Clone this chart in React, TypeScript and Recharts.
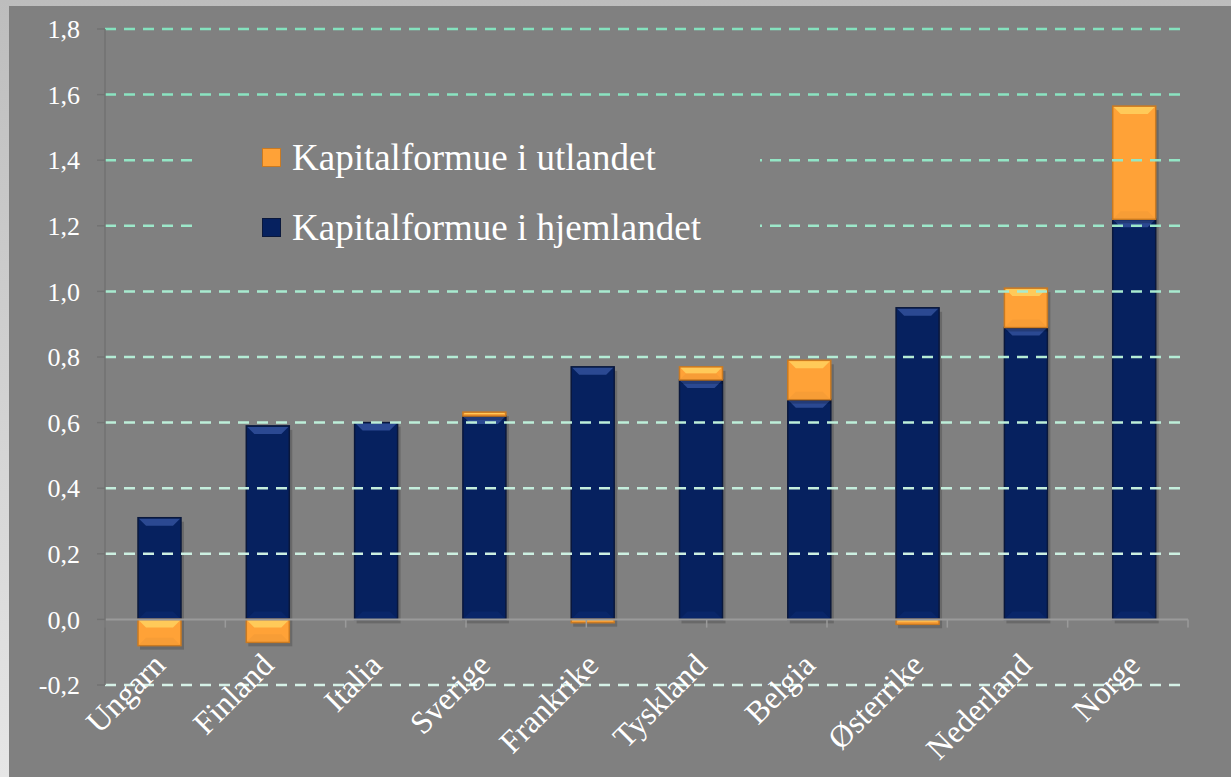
import React from 'react';
import { BarChart, Bar, XAxis, YAxis, ReferenceLine, Legend } from 'recharts';

const categories = ['Ungarn', 'Finland', 'Italia', 'Sverige', 'Frankrike', 'Tyskland', 'Belgia', 'Østerrike', 'Nederland', 'Norge'];
const hjemlandet = [0.31, 0.59, 0.6, 0.62, 0.77, 0.73, 0.67, 0.95, 0.89, 1.22];
const utlandet = [-0.08, -0.07, 0.0, 0.012, -0.01, 0.04, 0.12, -0.015, 0.12, 0.345];
const yTicks = [-0.2, 0, 0.2, 0.4, 0.6, 0.8, 1.0, 1.2, 1.4, 1.6, 1.8];
const boundaries = [0, 1, 2, 3, 4, 5, 6, 7, 8, 9, 10];
const seriesNames = { hjem: 'Kapitalformue i hjemlandet', utland: 'Kapitalformue i utlandet' };

const data = categories.map((c, i) => ({ name: c, hjem: hjemlandet[i], utland: utlandet[i] }));

const gridColors: Record<string, string> = {
  '-0.2': '#d6f1e7', '0.2': '#cdf0e2', '0.4': '#c4eedd', '0.6': '#bdeed9', '0.8': '#b4ecd5',
  '1': '#a8eacf', '1.2': '#9de8ca', '1.4': '#93e6c5', '1.6': '#8ae4c1', '1.8': '#84e2be',
};

const FONT = '"Liberation Serif", "Times New Roman", serif';

const palettes: Record<string, any> = {
  hjem: { body: '#06215f', top: '#34549f', edge: '#0a183c', bottom: '#0b2a70' },
  utland: { body: '#ffa237', top: '#ffd462', edge: '#c97a22', bottom: '#f29a35' },
};

const BevelBar = (props: any) => {
  let { x, y, width: w, height: h, pal } = props;
  if (h == null || w == null) return null;
  if (h < 0) { y += h; h = -h; }
  if (h < 0.5) return null;
  const b = Math.min(8, h / 2);
  return (
    <g>
      <rect x={x + 2} y={y + 4} width={w + 1} height={h} fill="#000" opacity={0.18} />
      <rect x={x} y={y} width={w} height={h} fill={pal.body} stroke={pal.edge} strokeWidth={1.5} />
      <polygon points={`${x + 1},${y + 1} ${x + w - 1},${y + 1} ${x + w - b},${y + b} ${x + b},${y + b}`} fill={pal.top} opacity={0.8} />
      <polygon points={`${x + 1},${y + h - 1} ${x + w - 1},${y + h - 1} ${x + w - b},${y + h - b} ${x + b},${y + h - b}`} fill={pal.bottom} opacity={0.6} />
    </g>
  );
};

const XTick = (props: any) => {
  const { x, y, payload } = props;
  const tx = x + 8;
  const ty = y - 18;
  return (
    <text x={tx} y={ty} transform={`rotate(-45 ${tx} ${ty})`} textAnchor="end" fill="#ffffff" fontSize={32} fontFamily={FONT}>
      {payload.value}
    </text>
  );
};

const fmt = (v: number) => v.toFixed(1).replace('.', ',');

const LegendBox = () => (
  <div style={{ position: 'relative', width: 560, height: 135, background: '#808080', fontFamily: FONT, color: '#fff', fontSize: 37 }}>
    {[
      { key: 'utland', top: 23 },
      { key: 'hjem', top: 93 },
    ].map((r) => (
      <div key={r.key}>
        <div style={{ position: 'absolute', left: 62, top: r.top, width: 19, height: 19, background: palettes[r.key].body, border: `1px solid ${palettes[r.key].edge}`, boxSizing: 'border-box' }} />
        <div style={{ position: 'absolute', left: 92, top: r.top - 10, lineHeight: '40px', whiteSpace: 'nowrap' }}>
          {(seriesNames as any)[r.key]}
        </div>
      </div>
    ))}
  </div>
);

export default function App() {
  return (
    <div style={{ position: 'absolute', left: 0, top: 0, width: 1231, height: 777, background: 'linear-gradient(to bottom, #bdbdbd, #e6e6e6)', overflow: 'hidden' }}>
      <div style={{ position: 'absolute', left: 9, top: 6, width: 1222, height: 771, background: '#808080' }}>
        <BarChart width={1222} height={771} data={data} stackOffset="sign" margin={{ top: 23, right: 43, left: 0, bottom: 0 }} barSize={43}>
          <XAxis dataKey="name" height={92} axisLine={false} tickLine={false} tickSize={0} tickMargin={0} tick={<XTick />} interval={0} />
          <XAxis xAxisId="num" type="number" domain={[0, 10]} hide />
          <YAxis
            type="number"
            domain={[-0.2, 1.8]}
            ticks={yTicks}
            width={96}
            tickFormatter={fmt}
            tick={{ fill: '#ffffff', fontSize: 26, fontFamily: FONT }}
            axisLine={{ stroke: '#727272', strokeWidth: 1.5 }}
            tickLine={{ stroke: '#727272', strokeWidth: 1.5 }}
            tickSize={8}
            tickMargin={17}
            allowDataOverflow
          />
          {yTicks.filter((t) => t !== 0).map((t) => (
            <ReferenceLine key={t} y={t} stroke={gridColors[String(t)]} strokeWidth={2.5} strokeDasharray="11 8" />
          ))}
          {boundaries.map((b) => (
            <ReferenceLine key={'b' + b} xAxisId="num" segment={[{ x: b, y: 0 }, { x: b, y: -0.025 }]} stroke="#9a9a9a" strokeWidth={1.5} />
          ))}
          <ReferenceLine y={0} stroke="#9a9a9a" strokeWidth={2} />
          <Bar dataKey="hjem" name={seriesNames.hjem} stackId="a" fill={palettes.hjem.body} isAnimationActive={false} shape={(p: any) => <BevelBar {...p} pal={palettes.hjem} />} />
          <Bar dataKey="utland" name={seriesNames.utland} stackId="a" fill={palettes.utland.body} isAnimationActive={false} shape={(p: any) => <BevelBar {...p} pal={palettes.utland} />} />
          <Legend layout="vertical" align="center" verticalAlign="middle" wrapperStyle={{ left: 191, top: 119, width: 560, height: 135 }} content={() => <LegendBox />} />
        </BarChart>
      </div>
    </div>
  );
}
